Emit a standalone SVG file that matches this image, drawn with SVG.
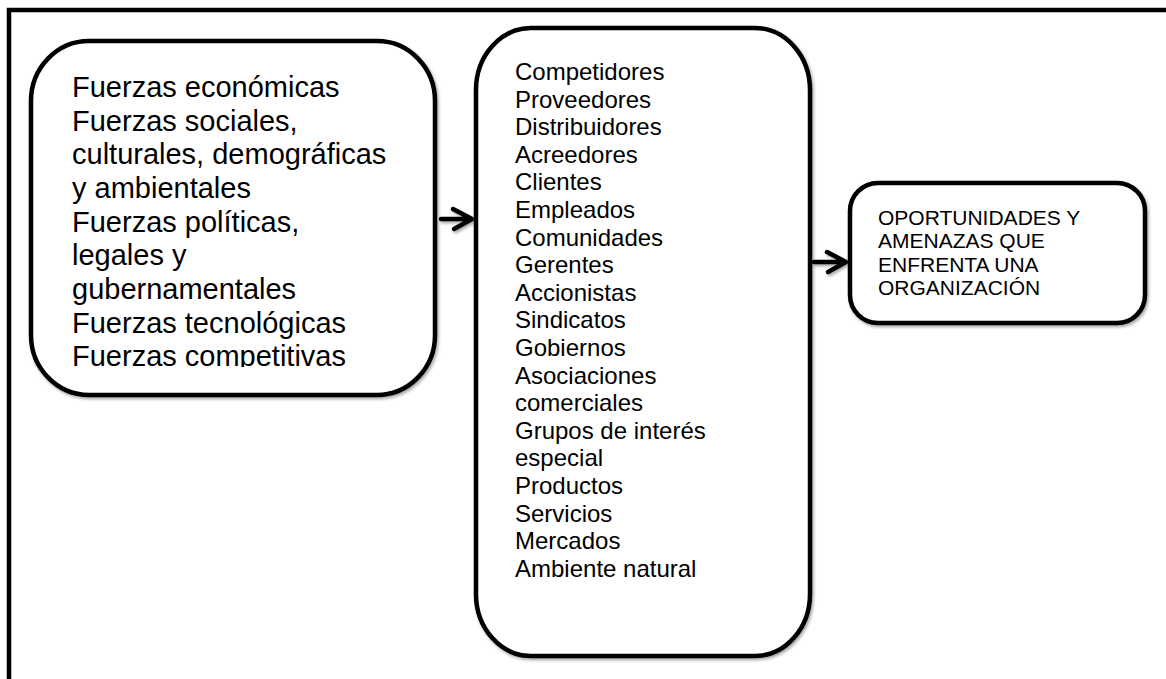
<svg xmlns="http://www.w3.org/2000/svg" width="1166" height="679" viewBox="0 0 1166 679">
<style>
.box{fill:#fff;stroke:#000;stroke-width:4.5}
.frame{fill:none;stroke:#000;stroke-width:4.5}
.t{font-family:"Liberation Sans",Arial,sans-serif;fill:#000}
.arr{fill:none;stroke:#000;stroke-width:4.5;stroke-linecap:round;stroke-linejoin:round}
</style>
<defs>
<filter id="sh" x="-10%" y="-10%" width="130%" height="130%">
<feDropShadow dx="1.5" dy="2" stdDeviation="1.5" flood-color="#000" flood-opacity="0.35"/>
</filter>
<clipPath id="clipL"><rect x="30" y="40" width="405" height="327"/></clipPath>
</defs>
<rect width="1166" height="679" fill="#fff"/>
<g id="frame">
<path class="frame" d="M9,679 V10 H1166"/>
</g>
<g id="fuerzas">
<rect class="box" x="31" y="41" width="404" height="354" rx="58" ry="60" filter="url(#sh)"/>
<g clip-path="url(#clipL)">
<text class="t" font-size="29">
<tspan x="72" y="97">Fuerzas económicas</tspan>
<tspan x="72" y="131">Fuerzas sociales,</tspan>
<tspan x="72" y="164">culturales, demográficas</tspan>
<tspan x="72" y="198">y ambientales</tspan>
<tspan x="72" y="232">Fuerzas políticas,</tspan>
<tspan x="72" y="265">legales y</tspan>
<tspan x="72" y="299">gubernamentales</tspan>
<tspan x="72" y="333">Fuerzas tecnológicas</tspan>
<tspan x="72" y="366">Fuerzas competitivas</tspan>
</text>
</g>
</g>
<g id="stakeholders">
<rect class="box" x="476" y="28" width="334" height="628" rx="55" ry="62" filter="url(#sh)"/>
<text class="t" font-size="24">
<tspan x="515" y="80">Competidores</tspan>
<tspan x="515" y="107.6">Proveedores</tspan>
<tspan x="515" y="135.2">Distribuidores</tspan>
<tspan x="515" y="162.8">Acreedores</tspan>
<tspan x="515" y="190.4">Clientes</tspan>
<tspan x="515" y="218">Empleados</tspan>
<tspan x="515" y="245.6">Comunidades</tspan>
<tspan x="515" y="273.2">Gerentes</tspan>
<tspan x="515" y="300.8">Accionistas</tspan>
<tspan x="515" y="328.4">Sindicatos</tspan>
<tspan x="515" y="356">Gobiernos</tspan>
<tspan x="515" y="383.6">Asociaciones</tspan>
<tspan x="515" y="411.2">comerciales</tspan>
<tspan x="515" y="438.8">Grupos de interés</tspan>
<tspan x="515" y="466.4">especial</tspan>
<tspan x="515" y="494">Productos</tspan>
<tspan x="515" y="521.6">Servicios</tspan>
<tspan x="515" y="549.2">Mercados</tspan>
<tspan x="515" y="576.8">Ambiente natural</tspan>
</text>
</g>
<g id="resultado">
<rect class="box" x="850" y="183" width="295" height="140" rx="28" ry="28" filter="url(#sh)"/>
<text class="t" font-size="21">
<tspan x="878" y="225">OPORTUNIDADES Y</tspan>
<tspan x="878" y="248.3">AMENAZAS QUE</tspan>
<tspan x="878" y="271.6">ENFRENTA UNA</tspan>
<tspan x="878" y="295">ORGANIZACIÓN</tspan>
</text>
</g>
<g id="connectors" filter="url(#sh)">
<path class="arr" d="M441,219 H471 M453,209 L472,219 L454,229"/>
<path class="arr" d="M814,262 H845 M827,252 L846,262 L828,272"/>
</g>
</svg>
